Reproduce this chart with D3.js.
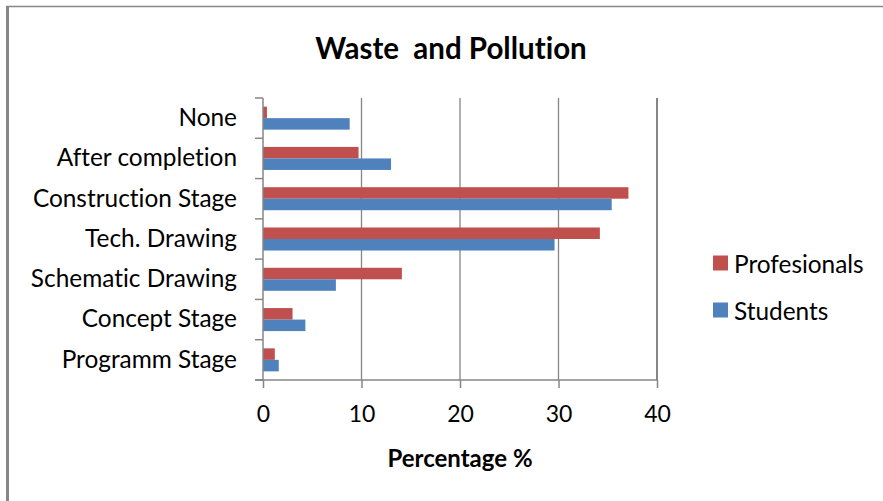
<!DOCTYPE html>
<html>
<head>
<meta charset="utf-8">
<script src="https://cdn.jsdelivr.net/npm/d3@7"></script>
<style>
  html, body { margin: 0; padding: 0; background: #fff; }
  svg { display: block; }
  text { font-family: Lato, "Open Sans", sans-serif; fill: #000;
         font-variant-ligatures: none; font-feature-settings: "liga" 0, "clig" 0; }
</style>
</head>
<body>
<script>
// Stages of the project in which waste and pollution are considered
const categories = ["None", "After completion", "Construction Stage", "Tech. Drawing",
                    "Schematic Drawing", "Concept Stage", "Programm Stage"];
const seriesNames = ["Profesionals", "Students"];
const profesionals = [0.4, 9.7, 37.1, 34.2, 14.1, 3.0, 1.2];
const students = [8.8, 13.0, 35.4, 29.6, 7.4, 4.3, 1.6];
const xTicks = [0, 10, 20, 30, 40];
const seriesColors = ["#C0504D", "#4F81BD"];

const W = 883, H = 501;
const plot = { left: 263, right: 657, top: 98, bottom: 380 };
const axisGrey = "#868686";

const svg = d3.select("body").append("svg").attr("width", W).attr("height", H);

// chart frame (left and top edges)
svg.append("line").attr("x1", 7.5).attr("x2", 7.5).attr("y1", 6).attr("y2", H)
  .attr("stroke", axisGrey).attr("stroke-width", 3);
svg.append("line").attr("x1", 6).attr("x2", W).attr("y1", 6.5).attr("y2", 6.5)
  .attr("stroke", axisGrey).attr("stroke-width", 1.5);

// title
svg.append("text").attr("x", 451).attr("y", 47).attr("text-anchor", "middle")
  .attr("dominant-baseline", "central")
  .style("font-weight", "bold").style("font-size", "29.5px").style("white-space", "pre")
  .text("Waste  and Pollution");

const x = d3.scaleLinear().domain([0, 40]).range([plot.left, plot.right]);
const gap = 1.5 / 3.5;
const y = d3.scaleBand().domain(categories).range([plot.top, plot.bottom])
  .paddingInner(gap).paddingOuter(gap / 2);
const ySub = d3.scaleBand().domain(seriesNames).range([0, y.bandwidth()]);

// vertical gridlines
svg.append("g").selectAll("line").data(xTicks.filter(d => d > 0)).join("line")
  .attr("x1", d => x(d)).attr("x2", d => x(d))
  .attr("y1", plot.top).attr("y2", plot.bottom)
  .attr("stroke", axisGrey).attr("stroke-width", d => d === 40 ? 2 : 1.3);

// bars
const rows = categories.map((c, i) => ({ cat: c, vals: [profesionals[i], students[i]] }));
const groups = svg.append("g").selectAll("g").data(rows).join("g")
  .attr("transform", d => `translate(0,${y(d.cat)})`);
groups.selectAll("rect").data(d => d.vals.map((v, k) => ({ v, s: seriesNames[k], k })))
  .join("rect")
  .attr("x", x(0))
  .attr("y", d => ySub(d.s))
  .attr("width", d => x(d.v) - x(0))
  .attr("height", ySub.bandwidth())
  .attr("fill", d => seriesColors[d.k]);

// value axis
const xAxis = d3.axisBottom(x).tickValues(xTicks).tickSize(8).tickPadding(18);
const gx = svg.append("g").attr("transform", `translate(0,${plot.bottom})`).call(xAxis);
gx.select(".domain").remove();
gx.append("line").attr("x1", plot.left - 8).attr("x2", plot.right)
  .attr("stroke", axisGrey).attr("stroke-width", 1.5);
gx.selectAll(".tick line").attr("stroke", axisGrey).attr("stroke-width", 1.5);
gx.selectAll(".tick text").style("font-size", "23px").style("font-family", "Lato, sans-serif")
  .attr("fill", "#000");

// category axis
const yAxis = d3.axisLeft(y).tickSize(0).tickPadding(26);
const gy = svg.append("g").attr("transform", `translate(${plot.left},0)`).call(yAxis);
gy.select(".domain").remove();
gy.append("line").attr("y1", plot.top).attr("y2", plot.bottom)
  .attr("stroke", axisGrey).attr("stroke-width", 1.5);
gy.selectAll(".tick text").style("font-size", "24.4px").style("font-family", "Lato, sans-serif")
  .attr("fill", "#000");
// boundary ticks between categories
const bounds = d3.range(categories.length + 1).map(i => plot.top + i * y.step());
gy.append("g").selectAll("line").data(bounds).join("line")
  .attr("x1", -8).attr("x2", 0).attr("y1", d => d).attr("y2", d => d)
  .attr("stroke", axisGrey).attr("stroke-width", 1.5);

// axis title
svg.append("text").attr("x", 460).attr("y", 457).attr("text-anchor", "middle")
  .attr("dominant-baseline", "central")
  .style("font-weight", "bold").style("font-size", "24px").text("Percentage %");

// legend
const legend = svg.append("g").selectAll("g").data(seriesNames).join("g")
  .attr("transform", (d, i) => `translate(713,${263 + i * 47})`);
legend.append("rect").attr("x", 0).attr("y", -7.5).attr("width", 15).attr("height", 15)
  .attr("fill", (d, i) => seriesColors[i]);
legend.append("text").attr("x", 21).attr("y", 0).attr("dominant-baseline", "central")
  .style("font-size", "24.4px").text(d => d);
</script>
</body>
</html>
